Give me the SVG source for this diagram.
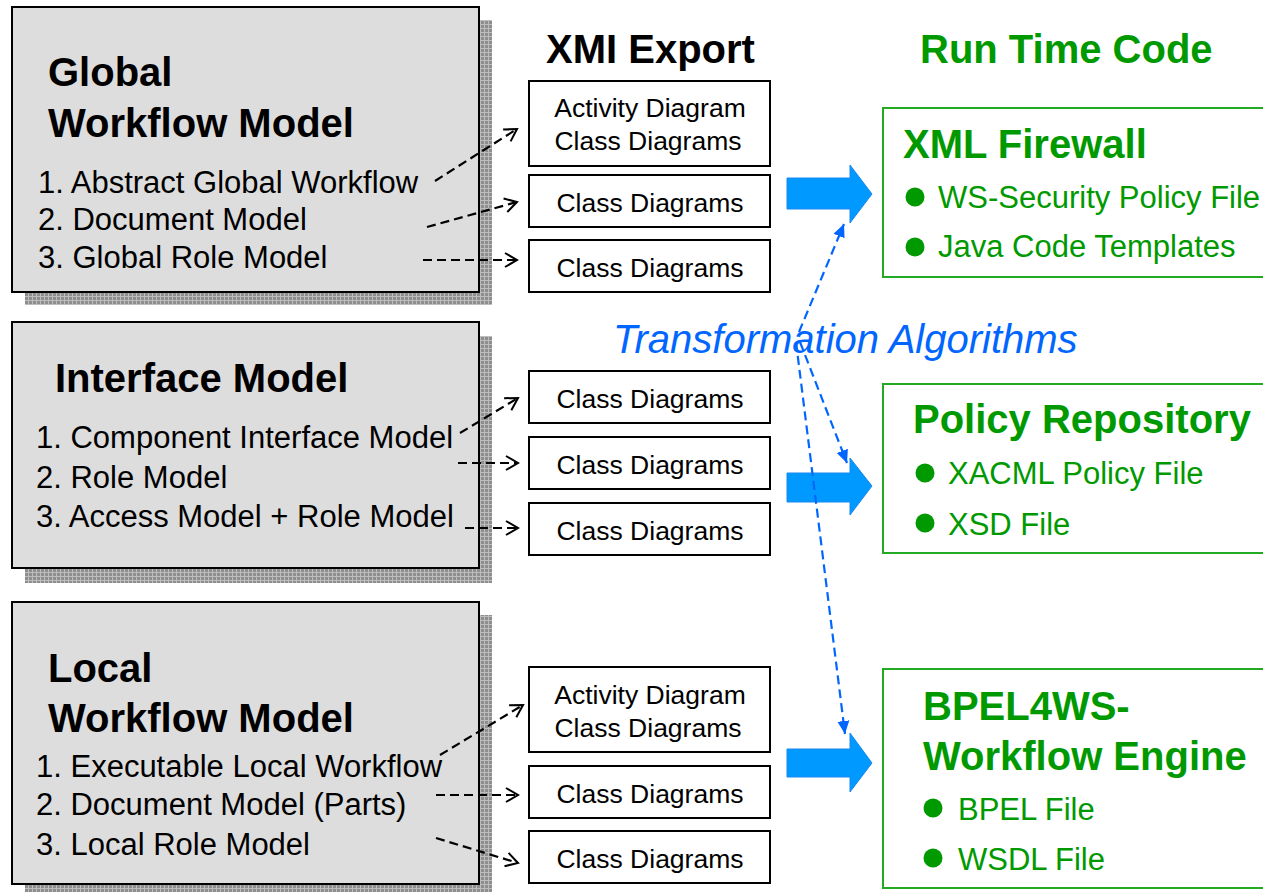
<svg xmlns="http://www.w3.org/2000/svg" width="1263" height="892" viewBox="0 0 1263 892">
<defs>
<pattern id="mesh" width="4" height="4" patternUnits="userSpaceOnUse">
<rect width="4" height="4" fill="#8e8e8e"/>
<path d="M0 0.5H4M0.5 0V4" stroke="#bdbdbd" stroke-width="1"/>
</pattern>
<marker id="open" markerWidth="16" markerHeight="16" refX="13" refY="8" orient="auto" markerUnits="userSpaceOnUse">
<path d="M1 1L13 8L1 15" fill="none" stroke="#000" stroke-width="2"/>
</marker>
<marker id="blue" markerWidth="14" markerHeight="14" refX="13" refY="7" orient="auto" markerUnits="userSpaceOnUse">
<path d="M0 1L13 7L0 13Z" fill="#0066ff"/>
</marker>
</defs>
<style>
.shadow{fill:url(#mesh)}
.model{fill:#dddddd;stroke:#000;stroke-width:2}
.h{font-family:"Liberation Sans",Arial,sans-serif;font-weight:bold;font-size:40px;fill:#000}
.i{font-family:"Liberation Sans",Arial,sans-serif;font-size:31px;fill:#000}
.xb{fill:#fff;stroke:#000;stroke-width:2}
.xt{font-family:"Liberation Sans",Arial,sans-serif;font-size:26.5px;fill:#000;text-anchor:middle}
.gb{fill:#fff;stroke:#22aa22;stroke-width:2}
.gh{font-family:"Liberation Sans",Arial,sans-serif;font-weight:bold;font-size:40px;fill:#009900}
.gt{font-family:"Liberation Sans",Arial,sans-serif;font-size:31px;fill:#009900}
.dot{fill:#009900}
.big{fill:#0099ff;stroke:#1a88f0;stroke-width:1}
.dash{fill:none;stroke:#000;stroke-width:2.2;stroke-dasharray:9 5;marker-end:url(#open)}
.bdash{fill:none;stroke:#0066ff;stroke-width:2.2;stroke-dasharray:9 5;marker-end:url(#blue)}
.ta{font-family:"Liberation Sans",Arial,sans-serif;font-style:italic;font-size:40px;fill:#0066ff}
</style>
<rect width="1263" height="892" fill="#fff"/>

<text class="h" x="546" y="63">XMI Export</text>
<text class="gh" x="920" y="63">Run Time Code</text>

<g id="global-workflow-model">
<rect class="shadow" x="25" y="20" width="467" height="285"/>
<rect class="model" x="12" y="7" width="467" height="285"/>
<text class="h" x="48" y="86">Global</text>
<text class="h" x="48" y="137">Workflow Model</text>
<text class="i" x="38" y="193">1. Abstract Global Workflow</text>
<text class="i" x="38" y="230">2. Document Model</text>
<text class="i" x="38" y="268">3. Global Role Model</text>
</g>

<g id="interface-model">
<rect class="shadow" x="25" y="336" width="467" height="247"/>
<rect class="model" x="12" y="322" width="467" height="246"/>
<text class="h" x="55" y="392">Interface Model</text>
<text class="i" x="36" y="448">1. Component Interface Model</text>
<text class="i" x="36" y="488">2. Role Model</text>
<text class="i" x="36" y="527">3. Access Model + Role Model</text>
</g>

<g id="local-workflow-model">
<rect class="shadow" x="25" y="615" width="467" height="282"/>
<rect class="model" x="12" y="602" width="467" height="282"/>
<text class="h" x="48" y="682">Local</text>
<text class="h" x="48" y="732">Workflow Model</text>
<text class="i" x="36" y="777">1. Executable Local Workflow</text>
<text class="i" x="36" y="815">2. Document Model (Parts)</text>
<text class="i" x="36" y="855">3. Local Role Model</text>
</g>

<g id="xmi-g1"><rect class="xb" x="529" y="81" width="241" height="85"/><text class="xt" x="650" y="117">Activity Diagram</text><text class="xt" x="648" y="150">Class Diagrams</text></g>
<g id="xmi-g2"><rect class="xb" x="529" y="175" width="241" height="52"/><text class="xt" x="650" y="212">Class Diagrams</text></g>
<g id="xmi-g3"><rect class="xb" x="529" y="240" width="241" height="52"/><text class="xt" x="650" y="277">Class Diagrams</text></g>
<g id="xmi-i1"><rect class="xb" x="529" y="371" width="241" height="52"/><text class="xt" x="650" y="408">Class Diagrams</text></g>
<g id="xmi-i2"><rect class="xb" x="529" y="437" width="241" height="52"/><text class="xt" x="650" y="474">Class Diagrams</text></g>
<g id="xmi-i3"><rect class="xb" x="529" y="503" width="241" height="52"/><text class="xt" x="650" y="540">Class Diagrams</text></g>
<g id="xmi-l1"><rect class="xb" x="529" y="667" width="241" height="85"/><text class="xt" x="650" y="704">Activity Diagram</text><text class="xt" x="648" y="737">Class Diagrams</text></g>
<g id="xmi-l2"><rect class="xb" x="529" y="766" width="241" height="52"/><text class="xt" x="650" y="803">Class Diagrams</text></g>
<g id="xmi-l3"><rect class="xb" x="529" y="831" width="241" height="52"/><text class="xt" x="650" y="868">Class Diagrams</text></g>

<g id="xml-firewall">
<rect class="gb" x="883" y="108" width="400" height="169"/>
<text class="gh" x="903" y="158">XML Firewall</text>
<circle class="dot" cx="915" cy="197" r="9.5"/>
<text class="gt" x="938" y="208">WS-Security Policy File</text>
<circle class="dot" cx="915" cy="247" r="9.5"/>
<text class="gt" x="938" y="257">Java Code Templates</text>
</g>

<g id="policy-repository">
<rect class="gb" x="883" y="384" width="400" height="169"/>
<text class="gh" x="913" y="433">Policy Repository</text>
<circle class="dot" cx="925" cy="473" r="9.5"/>
<text class="gt" x="948" y="484">XACML Policy File</text>
<circle class="dot" cx="925" cy="523" r="9.5"/>
<text class="gt" x="948" y="535">XSD File</text>
</g>

<g id="bpel-engine">
<rect class="gb" x="883" y="669" width="400" height="219"/>
<text class="gh" x="923" y="720">BPEL4WS-</text>
<text class="gh" x="923" y="770">Workflow Engine</text>
<circle class="dot" cx="933" cy="808" r="9.5"/>
<text class="gt" x="958" y="820">BPEL File</text>
<circle class="dot" cx="933" cy="858" r="9.5"/>
<text class="gt" x="958" y="870">WSDL File</text>
</g>

<text class="ta" x="613" y="353">Transformation Algorithms</text>

<g id="connectors">
<path class="big" d="M787 178H850V165L872 194L850 223V209H787Z"/>
<path class="big" d="M787 473H850V458L872 486L850 515V502H787Z"/>
<path class="big" d="M787 749H850V733L872 763L850 792V777H787Z"/>

<path class="dash" d="M435 181L517 129"/>
<path class="dash" d="M427 227L517 202"/>
<path class="dash" d="M423 260H517"/>
<path class="dash" d="M460 433L518 398"/>
<path class="dash" d="M458 463H518"/>
<path class="dash" d="M465 528H518"/>
<path class="dash" d="M440 755L523 705"/>
<path class="dash" d="M436 795H518"/>
<path class="dash" d="M436 838L518 863"/>

<path class="bdash" d="M799 332L844 224"/>
<path class="bdash" d="M800 342L847 463"/>
<path class="bdash" d="M796 342L845 734"/>
</g>
</svg>
